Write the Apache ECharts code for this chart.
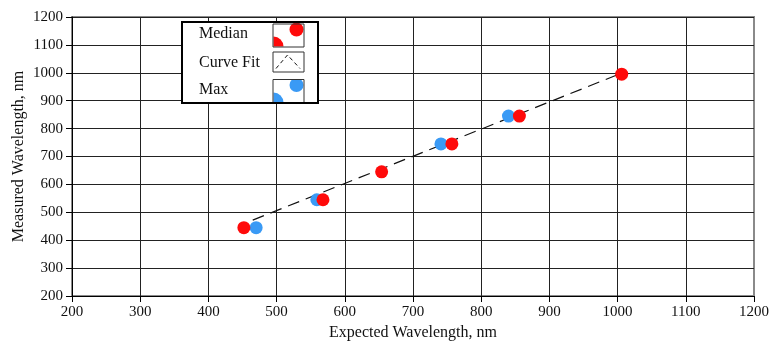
<!DOCTYPE html>
<html>
<head>
<meta charset="utf-8">
<script src="https://cdn.jsdelivr.net/npm/echarts@6/dist/echarts.min.js"></script>
<style>
html,body{margin:0;padding:0;background:#fff;}
#chart{width:782px;height:347px;}
</style>
</head>
<body>
<div id="chart"></div>
<script>
// ---- data ----
const medianX = [452, 568, 654, 757, 856, 1006];
const medianY = [445, 545, 645, 745, 845, 995];
const maxX = [470, 559, 741, 840];
const maxY = [445, 545, 745, 845];
const fitX = [465, 1000];
const fitY = [472, 993];
const xTicks = [200, 300, 400, 500, 600, 700, 800, 900, 1000, 1100, 1200];
const yTicks = [200, 300, 400, 500, 600, 700, 800, 900, 1000, 1100, 1200];
const legendNames = ['Median', 'Curve Fit', 'Max'];

const zip = (a, b) => a.map((v, i) => [v, b[i]]);
const FONT = '"Liberation Serif", "Times New Roman", serif';
const TXT = '#111';
const RED = '#ff0a0a';
const BLUE = '#3a9af5';

const splitColors = xTicks.map((t, i) => i === xTicks.length - 1 ? '#8a8a8a' : '#222');

const chart = echarts.init(document.getElementById('chart'));
const option = {
  animation: false,
  backgroundColor: '#fff',
  grid: {left: 72, right: 28, top: 17, bottom: 51, containLabel: false, outerBoundsMode: 'none',
         show: true, borderColor: '#8a8a8a', borderWidth: 2, backgroundColor: 'transparent'},
  xAxis: {
    type: 'value', min: xTicks[0], max: xTicks[xTicks.length - 1], interval: 100,
    name: 'Expected Wavelength, nm', nameLocation: 'middle', nameGap: 29, nameMoveOverlap: false,
    nameTextStyle: {fontFamily: FONT, fontSize: 16, color: TXT},
    axisLine: {show: true, onZero: false, lineStyle: {color: '#000', width: 1}},
    axisTick: {show: true, inside: false, length: 6, lineStyle: {color: '#000'}},
    axisLabel: {fontFamily: FONT, fontSize: 15, color: TXT, margin: 9, formatter: v => String(v)},
    splitLine: {show: true, lineStyle: {color: splitColors, width: 1}}
  },
  yAxis: {
    type: 'value', min: yTicks[0], max: yTicks[yTicks.length - 1], interval: 100,
    name: 'Measured Wavelength, nm', nameLocation: 'middle', nameGap: 45, nameMoveOverlap: false,
    nameTextStyle: {fontFamily: FONT, fontSize: 16, color: TXT},
    axisLine: {show: true, onZero: false, lineStyle: {color: '#000', width: 1}},
    axisTick: {show: true, inside: false, length: 6, lineStyle: {color: '#000'}},
    axisLabel: {fontFamily: FONT, fontSize: 15, color: TXT, margin: 9, formatter: v => String(v)},
    splitLine: {show: true, lineStyle: {color: '#222', width: 1}}
  },
  series: [
    {
      name: legendNames[1], type: 'line', data: zip(fitX, fitY), symbol: 'none', z: 2,
      lineStyle: {color: '#111', width: 1.2, type: [12, 7]}
    },
    {
      name: legendNames[2], type: 'scatter', data: zip(maxX, maxY), symbol: 'circle', symbolSize: 13, z: 3,
      itemStyle: {color: BLUE, opacity: 1}
    },
    {
      name: legendNames[0], type: 'scatter', data: zip(medianX, medianY), symbol: 'circle', symbolSize: 13, z: 4,
      itemStyle: {color: RED, opacity: 1}
    }
  ],
  graphic: [
    {type: 'rect', shape: {x: 182, y: 22, width: 136, height: 81}, style: {fill: '#fff', stroke: '#000', lineWidth: 2}, z: 100},
    {type: 'text', x: 199, y: 34, style: {text: legendNames[0], font: '16px ' + FONT, fill: TXT, textVerticalAlign: 'middle'}, z: 101},
    {type: 'text', x: 199, y: 62.5, style: {text: legendNames[1], font: '16px ' + FONT, fill: TXT, textVerticalAlign: 'middle'}, z: 101},
    {type: 'text', x: 199, y: 89.5, style: {text: legendNames[2], font: '16px ' + FONT, fill: TXT, textVerticalAlign: 'middle'}, z: 101},
    {type: 'circle', shape: {cx: 296.5, cy: 29.5, r: 7}, style: {fill: RED}, z: 101},
    {type: 'sector', shape: {cx: 273.5, cy: 46.5, r: 10, startAngle: -Math.PI / 2, endAngle: 0, clockwise: true}, style: {fill: RED}, z: 101},
    {type: 'circle', shape: {cx: 296.5, cy: 85, r: 7}, style: {fill: BLUE}, z: 101},
    {type: 'rect', shape: {x: 287, y: 73, width: 20, height: 6.5}, style: {fill: '#fff'}, z: 102},
    {type: 'sector', shape: {cx: 273.5, cy: 102.5, r: 10, startAngle: -Math.PI / 2, endAngle: 0, clockwise: true}, style: {fill: BLUE}, z: 101},
    {type: 'polyline', shape: {points: [[276, 68.5], [287.5, 55], [300, 68.5]]}, style: {stroke: '#111', lineWidth: 1, lineDash: [4, 3], fill: null}, z: 101},
    {type: 'rect', shape: {x: 273, y: 24, width: 31, height: 23}, style: {fill: null, stroke: '#333', lineWidth: 1}, z: 103},
    {type: 'rect', shape: {x: 273, y: 52, width: 31, height: 20}, style: {fill: null, stroke: '#333', lineWidth: 1}, z: 103},
    {type: 'rect', shape: {x: 273, y: 79.5, width: 31, height: 23}, style: {fill: null, stroke: '#333', lineWidth: 1}, z: 103},
    {type: 'rect', shape: {x: 182, y: 22, width: 136, height: 81}, style: {fill: null, stroke: '#000', lineWidth: 2}, z: 104}
  ]
};
chart.setOption(option);
</script>
</body>
</html>
